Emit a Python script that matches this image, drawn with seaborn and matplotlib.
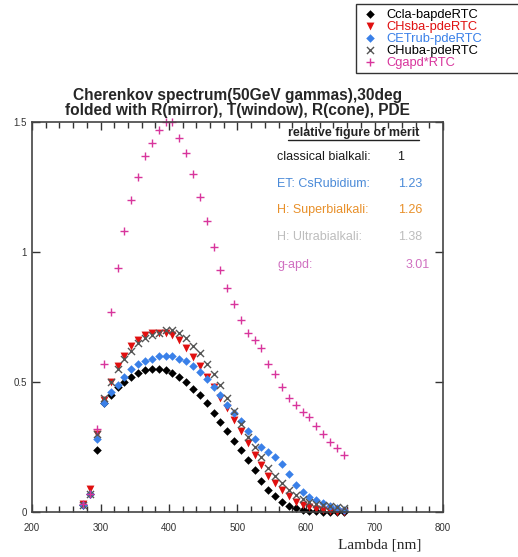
import numpy as np
import pandas as pd
import matplotlib
matplotlib.use("Agg")
import matplotlib.pyplot as plt
from matplotlib.ticker import MultipleLocator
import seaborn as sns

# wavelengths (nm) of the folded spectrum points
lam = [275, 285, 295, 305, 315, 325, 335, 345, 355, 365, 375, 385, 395, 405,
       415, 425, 435, 445, 455, 465, 475, 485, 495, 505, 515, 525, 535, 545,
       555, 565, 575, 585, 595, 605, 615, 625, 635, 645, 655]

ccla = [0.027, 0.07, 0.24, 0.42, 0.45, 0.48, 0.50, 0.52, 0.535, 0.545, 0.55, 0.55,
        0.545, 0.535, 0.52, 0.50, 0.475, 0.45, 0.42, 0.38, 0.345, 0.31, 0.275,
        0.24, 0.20, 0.16, 0.12, 0.085, 0.06, 0.04, 0.025, 0.015, 0.008, 0.004,
        0.002, 0.001, 0.0, 0.0, 0.0]

chsba = [0.03, 0.09, 0.30, 0.43, 0.50, 0.56, 0.60, 0.64, 0.66, 0.68, 0.69, 0.69,
         0.69, 0.68, 0.66, 0.63, 0.595, 0.56, 0.52, 0.48, 0.44, 0.40, 0.355,
         0.31, 0.265, 0.22, 0.18, 0.14, 0.11, 0.085, 0.06, 0.04, 0.028, 0.018,
         0.01, 0.006, 0.003, 0.001, 0.0]

cetrub = [0.027, 0.07, 0.28, 0.42, 0.46, 0.49, 0.52, 0.55, 0.57, 0.58, 0.59, 0.60,
          0.60, 0.60, 0.59, 0.58, 0.56, 0.54, 0.51, 0.48, 0.45, 0.41, 0.38,
          0.35, 0.31, 0.28, 0.25, 0.23, 0.21, 0.185, 0.145, 0.105, 0.078, 0.058,
          0.045, 0.035, 0.022, 0.015, 0.008]

chuba = [0.027, 0.07, 0.30, 0.44, 0.50, 0.55, 0.59, 0.62, 0.65, 0.67, 0.68, 0.69,
         0.70, 0.70, 0.69, 0.67, 0.64, 0.61, 0.57, 0.53, 0.49, 0.44, 0.39,
         0.34, 0.29, 0.25, 0.21, 0.17, 0.14, 0.11, 0.085, 0.065, 0.05, 0.04,
         0.032, 0.027, 0.023, 0.02, 0.015]

cgapd = [0.03, 0.07, 0.32, 0.57, 0.77, 0.94, 1.08, 1.20, 1.29, 1.37, 1.42, 1.47,
         1.50, 1.50, 1.44, 1.38, 1.30, 1.21, 1.12, 1.02, 0.93, 0.86, 0.80,
         0.74, 0.69, 0.66, 0.63, 0.57, 0.53, 0.48, 0.44, 0.41, 0.385, 0.365,
         0.33, 0.30, 0.27, 0.245, 0.22]

merit_names = ["classical bialkali:", "ET: CsRubidium:", "H: Superbialkali:",
               "H: Ultrabialkali:", "g-apd:"]
merit_vals = ["1", "1.23", "1.26", "1.38", "3.01"]
merit_cols = ["#1a1a1a", "#4a8ad8", "#e8902a", "#bdbdbd", "#d070c0"]

df = pd.DataFrame({"lam": lam, "Ccla-bapdeRTC": ccla, "CHsba-pdeRTC": chsba,
                   "CETrub-pdeRTC": cetrub, "CHuba-pdeRTC": chuba,
                   "Cgapd*RTC": cgapd})
long = df.melt(id_vars="lam", var_name="series", value_name="val")

sns.set_style("ticks")
plt.rcParams["font.family"] = ["Liberation Sans", "DejaVu Sans"]

fig = plt.figure(figsize=(5.18, 5.57), dpi=100)
ax = fig.add_axes([32/518, 1-512/557, (443-32)/518, (512-122)/557])

styles = {
    "Ccla-bapdeRTC": dict(marker="D", color="black", s=19),
    "CHsba-pdeRTC": dict(marker="v", color="#e01010", s=32),
    "CETrub-pdeRTC": dict(marker="D", color="#3a80e8", s=19),
    "CHuba-pdeRTC": dict(marker="x", color="#555555", s=26),
    "Cgapd*RTC": dict(marker="+", color="#d8359c", s=34),
}
for name, st in styles.items():
    sub = long[long["series"] == name]
    kw = dict(linewidth=1.0) if st["marker"] in ("x", "+") else dict(linewidth=0)
    sns.scatterplot(data=sub, x="lam", y="val", ax=ax, marker=st["marker"],
                    color=st["color"], s=st["s"], label=name, legend=False,
                    clip_on=False, **kw)

ax.set_xlim(200, 800)
ax.set_ylim(0, 1.5)
ax.set_xticks(range(200, 801, 100))
ax.xaxis.set_minor_locator(MultipleLocator(20))
ax.set_yticks([0, 0.5, 1, 1.5])
ax.set_yticklabels(["0", "0.5", "1", "1.5"])
ax.tick_params(which="both", direction="in", top=True, right=True,
               labelsize=7, colors="#333333", width=1)
ax.tick_params(which="major", length=6)
ax.tick_params(which="minor", length=4)
ax.tick_params(axis="x", pad=8)
for sp in ax.spines.values():
    sp.set_color("#444444")
    sp.set_linewidth(1.2)
ax.set_xlabel("")
ax.set_ylabel("")

ax.set_title("Cherenkov spectrum(50GeV gammas),30deg\n"
             "folded with R(mirror), T(window), R(cone), PDE",
             fontsize=11.2, fontweight="bold", pad=5, linespacing=1.0)

hdr = ax.text(669, 1.458, "relative figure of merit", fontsize=9,
              fontweight="bold", ha="center", va="center", color="#222222")
ys = [1.365, 1.262, 1.162, 1.058, 0.95]
xv = [733, 734, 734, 734, 745]
for name, v, c, y, x in zip(merit_names, merit_vals, merit_cols, ys, xv):
    ax.text(558, y, name, fontsize=9, color=c, ha="left", va="center")
    ax.text(x, y, v, fontsize=9, color=c, ha="left", va="center")

fig.text(380/518, 1-545/557, "Lambda [nm]", fontsize=11,
         family="Liberation Serif", ha="center", va="center")

leg = fig.legend(loc="upper left", bbox_to_anchor=(356/518, 1-4/557, 230/518, 0),
                 mode="expand", fontsize=9.3, frameon=True, fancybox=False,
                 labelspacing=0.0, handletextpad=0.6, borderpad=0.35,
                 handlelength=1.4, borderaxespad=0)
leg.get_frame().set_edgecolor("black")
leg.get_frame().set_linewidth(1.0)
for t, c in zip(leg.get_texts(), ["black", "#e01010", "#3a80e8", "black", "#d8359c"]):
    t.set_color(c)

# underline the merit header
fig.canvas.draw()
bb = hdr.get_window_extent().transformed(fig.transFigure.inverted())
fig.add_artist(plt.Line2D([bb.x0, bb.x1], [bb.y0 - 0.002, bb.y0 - 0.002],
                          transform=fig.transFigure, color="#222222", lw=1))

fig.savefig("out.png", dpi=100)
